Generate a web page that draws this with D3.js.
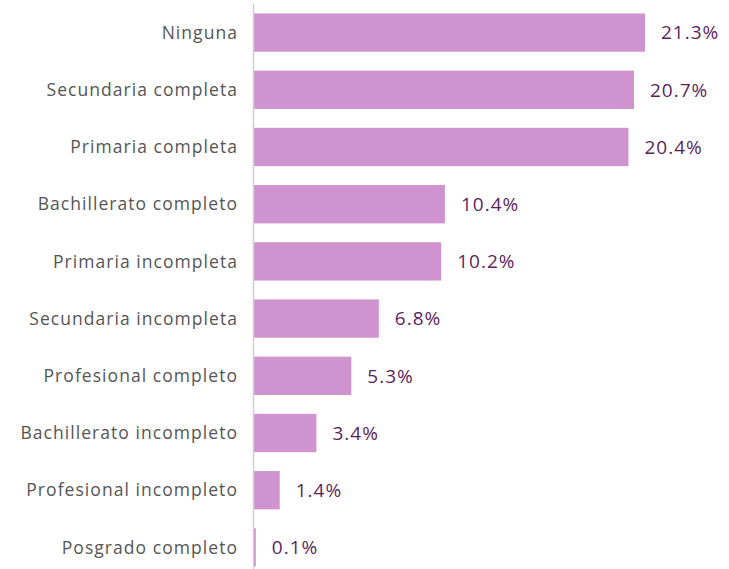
<!DOCTYPE html>
<html>
<head>
<meta charset="utf-8">
<script src="https://cdn.jsdelivr.net/npm/d3@7"></script>
<style>
  body { margin: 0; background: #fff; }
  svg { display: block; }
</style>
</head>
<body>
<div id="chart"></div>
<script>
const categories = [
  "Ninguna", "Secundaria completa", "Primaria completa", "Bachillerato completo",
  "Primaria incompleta", "Secundaria incompleta", "Profesional completo",
  "Bachillerato incompleto", "Profesional incompleto", "Posgrado completo"
];
const values = [21.3, 20.7, 20.4, 10.4, 10.2, 6.8, 5.3, 3.4, 1.4, 0.1];

const width = 729, height = 569;
const axisX = 254;

const svg = d3.select("#chart").append("svg")
  .attr("width", width)
  .attr("height", height);

const data = categories.map((c, i) => ({ cat: c, val: values[i] }));

const x = d3.scaleLinear()
  .domain([0, d3.max(values)])
  .range([axisX, 645]);

const y = d3.scaleBand()
  .domain(categories)
  .range([4, 576])
  .paddingInner(0.33)
  .paddingOuter(0.165);

svg.selectAll("rect.bar")
  .data(data)
  .join("rect")
  .attr("class", "bar")
  .attr("x", x(0))
  .attr("y", d => y(d.cat))
  .attr("width", d => Math.max(0, x(d.val) - x(0)))
  .attr("height", y.bandwidth())
  .attr("fill", "#cf93cf");

// vertical baseline
svg.append("line")
  .attr("x1", axisX - 0.5).attr("x2", axisX - 0.5)
  .attr("y1", 4).attr("y2", height)
  .attr("stroke", "#d0d0d0")
  .attr("stroke-width", 1.5);

svg.selectAll("text.cat")
  .data(data)
  .join("text")
  .attr("class", "cat")
  .attr("x", axisX - 16)
  .attr("y", d => y(d.cat) + y.bandwidth() / 2)
  .attr("dy", "0.35em")
  .attr("text-anchor", "end")
  .attr("font-family", "'Open Sans', sans-serif")
  .attr("font-size", 17.5)
  .attr("letter-spacing", 1.05)
  .attr("fill", "#555")
  .text(d => d.cat);

svg.selectAll("text.val")
  .data(data)
  .join("text")
  .attr("class", "val")
  .attr("x", d => x(d.val) + 16)
  .attr("y", d => y(d.cat) + y.bandwidth() / 2)
  .attr("dy", "0.36em")
  .attr("font-family", "'Open Sans', sans-serif")
  .attr("font-size", 19)
  .attr("letter-spacing", 1.0)
  .attr("fill", "#5c1f5e")
  .text(d => d.val.toFixed(1) + "%");
</script>
</body>
</html>
